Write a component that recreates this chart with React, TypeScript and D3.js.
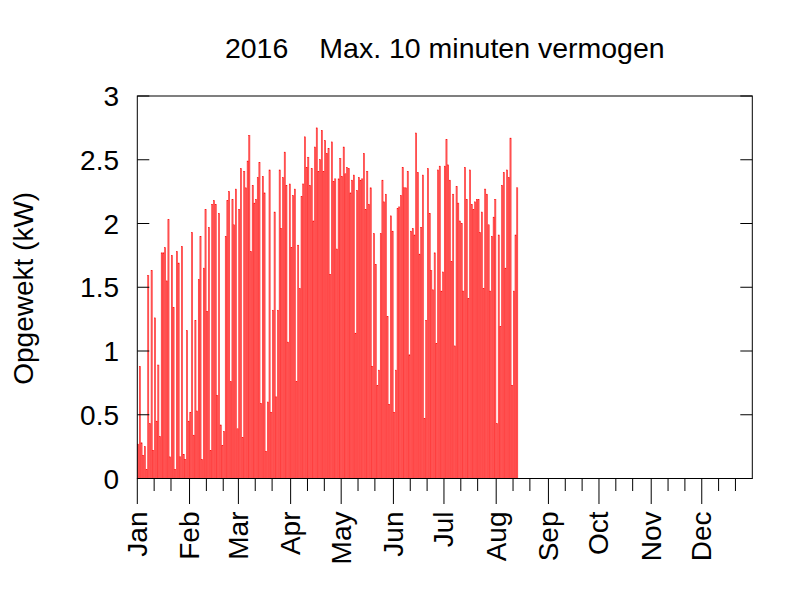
import React from 'react';
import * as d3 from 'd3';

// daily maximum 10-minute power (kW), starting 1 Jan 2016
const startDate = new Date(2016, 0, 1);
const maxPower: number[] = [
  // Jan / early Feb
  0.27, 0.88, 0.28, 0.18, 0.25, 0.07, 1.59, 0.43, 1.63, 0.22, 1.26, 0.45, 0.89, 0.33, 1.77, 1.77, 1.81, 1.55, 2.03,
  0.17, 1.75, 1.34, 0.07, 1.78, 1.69, 0.17, 1.82, 0.19, 0.15, 1.16, 0.45, 0.52, 1.93, 0.34, 1.24, 0.53, 1.56, 1.90,
  // Feb / Mar
  0.15, 1.65, 2.11, 1.31, 1.97, 0.22, 2.15, 2.18, 2.15, 0.65, 2.08, 0.42, 0.26, 0.37, 1.90, 2.18, 2.25, 0.76, 2.19,
  1.99, 2.27, 0.39, 2.11, 2.43, 0.32, 2.41, 2.28, 2.49, 2.69, 1.78, 2.30, 2.16, 2.19, 2.36, 2.48, 0.59, 2.37, 2.24,
  // Mar / Apr
  0.21, 0.60, 2.42, 0.52, 1.32, 2.09, 0.64, 1.32, 2.42, 1.96, 2.36, 2.56, 2.30, 1.07, 2.31, 1.81, 2.22, 2.27, 0.76,
  1.83, 1.49, 2.21, 2.31, 2.68, 2.44, 2.52, 2.30, 2.43, 2.02, 2.60, 2.75, 2.41, 2.50, 2.73, 2.41, 2.65, 2.55, 2.59,
  // Apr / May
  1.60, 2.64, 2.33, 2.35, 1.80, 2.35, 2.51, 2.37, 2.60, 2.39, 2.44, 2.43, 2.24, 2.34, 2.38, 1.14, 2.26, 2.36, 2.34,
  2.35, 2.55, 2.11, 2.41, 2.15, 2.28, 0.88, 1.92, 1.68, 0.73, 0.85, 1.92, 2.34, 2.17, 2.23, 1.27, 0.58, 2.06, 1.94,
  // Jun / Jul
  0.52, 0.85, 2.12, 2.13, 2.22, 2.44, 2.28, 2.28, 2.41, 0.97, 1.94, 1.96, 1.91, 2.71, 2.40, 1.76, 1.97, 2.38, 0.47,
  1.24, 2.43, 2.08, 1.63, 1.48, 1.77, 1.06, 2.42, 2.45, 1.47, 1.62, 2.45, 2.66, 2.46, 2.34, 1.70, 2.23, 1.04, 2.29,
  // Jul / Aug
  2.16, 2.02, 2.00, 1.47, 2.44, 2.19, 1.41, 2.42, 2.15, 2.11, 2.17, 2.19, 2.19, 1.93, 2.09, 1.49, 2.27, 2.23,
  1.99, 1.47, 1.90, 2.05, 2.19, 0.43, 1.91, 1.19, 2.30, 2.40, 1.65, 2.42, 2.36, 2.67, 0.73, 1.47, 1.91, 2.28,
];

const yTicks = [0, 0.5, 1, 1.5, 2, 2.5, 3];
const monthLabels = ['Jan', 'Feb', 'Mar', 'Apr', 'May', 'Jun', 'Jul', 'Aug', 'Sep', 'Oct', 'Nov', 'Dec'];
const minorDays = [11, 21];

const titleYear = '2016';
const titleText = 'Max. 10 minuten vermogen';
const yLabel = 'Opgewekt (kW)';

const W = 800;
const H = 600;
const plot = { left: 137.3, right: 752.3, top: 96, bottom: 478.5 };
const font = '"Liberation Sans", Arial, sans-serif';

export default function App() {
  const x = d3
    .scaleTime()
    .domain([new Date(2016, 0, 1), new Date(2016, 11, 31)])
    .range([plot.left, plot.right]);
  const y = d3.scaleLinear().domain([0, 3]).range([plot.bottom, plot.top]);

  const dayW = x(d3.timeDay.offset(startDate, 1)) - x(startDate);
  const bars = maxPower.map((v, i) => ({ date: d3.timeDay.offset(startDate, i), value: v }));

  const months = monthLabels.map((label, m) => ({ label, date: new Date(2016, m, 1) }));
  const minor = months.flatMap((m) => minorDays.map((d) => new Date(2016, m.date.getMonth(), d)));

  return (
    <svg
      width={W}
      height={H}
      style={{ position: 'absolute', left: 0, top: 0, background: '#fff' }}
      fontFamily={font}
    >
      <rect x={0} y={0} width={W} height={H} fill="#fff" />

      {/* bars */}
      <g>
        {bars.map((d, i) => {
          const cx = x(d.date) + dayW / 2;
          const bw = dayW * 0.7;
          return (
            <rect
              key={i}
              x={cx - bw / 2}
              y={y(d.value)}
              width={bw}
              height={y(0) - y(d.value)}
              fill="#ff6a6a"
              stroke="#ff0000"
              strokeWidth={0.45}
            />
          );
        })}
      </g>

      {/* y ticks, both sides, inward */}
      {yTicks.map((t) => (
        <g key={t}>
          <line x1={plot.left} x2={plot.left + 12} y1={y(t)} y2={y(t)} stroke="#000" />
          <line x1={plot.right - 12} x2={plot.right} y1={y(t)} y2={y(t)} stroke="#000" />
          <text x={119} y={y(t) + 10} textAnchor="end" fontSize={28}>
            {t}
          </text>
        </g>
      ))}

      {/* x ticks, outward */}
      {minor.map((d, i) => (
        <line key={i} x1={x(d)} x2={x(d)} y1={plot.bottom} y2={plot.bottom + 12.5} stroke="#000" />
      ))}
      {months.map((m) => (
        <g key={m.label}>
          <line x1={x(m.date)} x2={x(m.date)} y1={plot.bottom} y2={plot.bottom + 25.5} stroke="#000" />
          <text
            transform={`translate(${x(m.date) + 9.5},511.5) rotate(-90)`}
            textAnchor="end"
            fontSize={28}
          >
            {m.label}
          </text>
        </g>
      ))}

      {/* frame */}
      <rect
        x={plot.left}
        y={plot.top}
        width={plot.right - plot.left}
        height={plot.bottom - plot.top}
        fill="none"
        stroke="#000"
      />

      <text x={(plot.left + plot.right) / 2} y={57.5} textAnchor="middle" fontSize={28.5}>
        <tspan>{titleYear}</tspan>
        <tspan dx={31}>{titleText}</tspan>
      </text>

      <text transform="translate(33.4,288.3) rotate(-90)" textAnchor="middle" fontSize={28}>
        {yLabel}
      </text>
    </svg>
  );
}
